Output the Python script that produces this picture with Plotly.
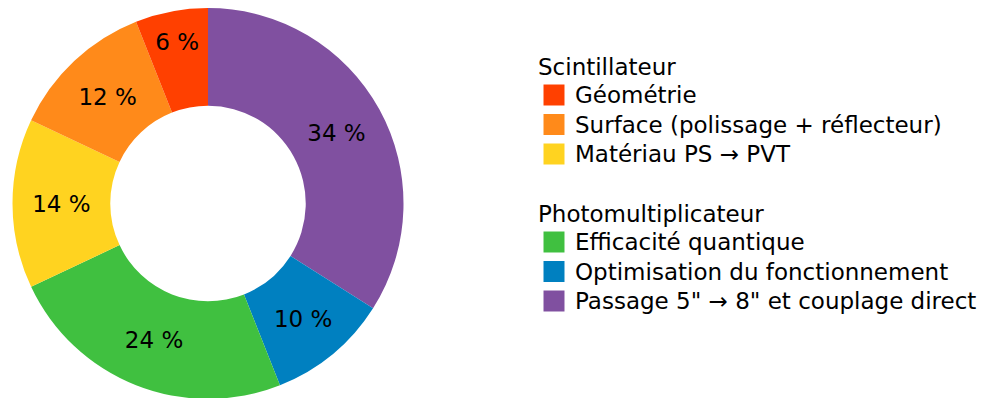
import plotly.graph_objects as go

labels = ["Géométrie", "Surface (polissage + réflecteur)", "Matériau PS → PVT",
          "Efficacité quantique", "Optimisation du fonctionnement",
          'Passage 5" → 8" et couplage direct']
groups = ["Scintillateur", "Scintillateur", "Scintillateur",
          "Photomultiplicateur", "Photomultiplicateur", "Photomultiplicateur"]
values = [6, 12, 14, 24, 10, 34]
colors = ["#FF4000", "#FF8A1A", "#FFD320", "#40C040", "#0080C0", "#8050A0"]

FONT = "DejaVu Sans"
W, H = 997, 398
OFF = 8  # page body margin

fig = go.Figure()
fig.add_trace(go.Pie(
    labels=labels[::-1], values=values[::-1], hole=0.5, sort=False,
    direction="clockwise", rotation=0,
    marker=dict(colors=colors[::-1], line=dict(width=0)),
    texttemplate="%{value} %", textinfo="text",
    textposition="inside", insidetextorientation="horizontal",
    textfont=dict(family=FONT, size=23, color="black"),
    domain=dict(x=[4/W, 396/W], y=[7/H, 1.0]),
    showlegend=False, hoverinfo="label+percent",
))

# Legend drawn from the label / group / colour lists
px = lambda v: (v - OFF) / W
py = lambda v: 1 - (v - OFF) / H
title_x, sq_x, sq_size, text_x = 536, 543.5, 21, 573
y = 67
prev_group = None
for lab, grp, col in zip(labels, groups, colors):
    if grp != prev_group:
        if prev_group is not None:
            y += 60
        fig.add_annotation(x=px(title_x), y=py(y), xref="paper", yref="paper",
                           text=grp, showarrow=False, xanchor="left", yanchor="middle",
                           font=dict(family=FONT, size=23, color="black"))
        y += 28
        prev_group = grp
    else:
        y += 29.5
    fig.add_shape(type="rect", xref="paper", yref="paper",
                  x0=px(sq_x), x1=px(sq_x + sq_size),
                  y0=py(y - sq_size / 2), y1=py(y + sq_size / 2),
                  fillcolor=col, line=dict(width=0))
    fig.add_annotation(x=px(text_x), y=py(y), xref="paper", yref="paper",
                       text=lab, showarrow=False, xanchor="left", yanchor="middle",
                       font=dict(family=FONT, size=23, color="black"))

fig.update_layout(
    width=W, height=H,
    margin=dict(l=0, r=0, t=0, b=0),
    paper_bgcolor="white", plot_bgcolor="white",
    showlegend=False,
    uniformtext=dict(minsize=23, mode="show"),
)
fig.write_html("out.html")
